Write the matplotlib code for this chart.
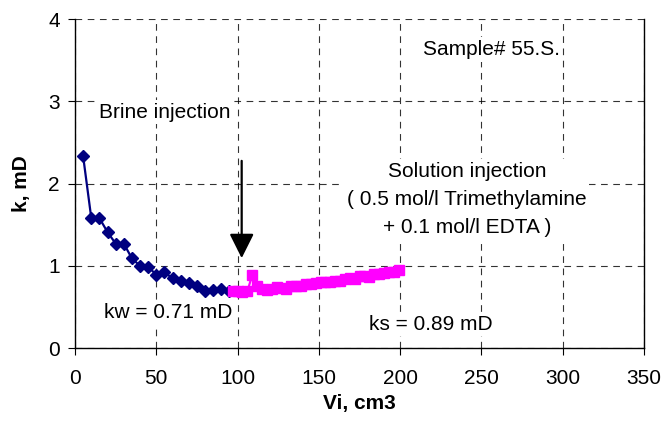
import numpy as np
import matplotlib.pyplot as plt

plt.rcParams['font.family'] = ['Liberation Sans', 'DejaVu Sans']

# Données : injection de saumure
vi_brine = [5, 10, 15, 20, 25, 30, 35, 40, 45, 50, 55, 60, 65, 70, 75, 80, 85, 90, 95]
k_brine = [2.33, 1.58, 1.58, 1.41, 1.27, 1.27, 1.09, 1.00, 0.99, 0.89, 0.92,
           0.85, 0.82, 0.79, 0.76, 0.70, 0.71, 0.72, 0.69]

# Données : injection de solution
vi_sol = [97, 100, 103, 106, 109, 112, 115, 118, 121, 124, 127, 130, 133, 136,
          139, 142, 145, 148, 151, 154, 157, 160, 163, 166, 169, 172, 175, 178,
          181, 184, 187, 190, 193, 196, 199]
k_sol = [0.69, 0.69, 0.68, 0.69, 0.89, 0.75, 0.72, 0.71, 0.72, 0.74, 0.73,
         0.72, 0.75, 0.76, 0.76, 0.78, 0.78, 0.79, 0.80, 0.80, 0.80, 0.82,
         0.82, 0.84, 0.85, 0.84, 0.88, 0.88, 0.87, 0.90, 0.90, 0.91, 0.92,
         0.93, 0.95]

xticks = [0, 50, 100, 150, 200, 250, 300, 350]
yticks = [0, 1, 2, 3, 4]

fig = plt.figure(figsize=(6.64, 4.23), dpi=100)
ax = fig.add_axes([0.113, 0.177, 0.857, 0.778])

ax.plot(vi_brine, k_brine, "-", color="#000080", marker="D", markersize=6.3,
        linewidth=1.6, zorder=3)
ax.plot(vi_sol, k_sol, "-", color="#FF00FF", marker="s", markersize=7,
        linewidth=1.6, zorder=3)

ax.set_xlim(0, 350)
ax.set_ylim(0, 4)
ax.set_xticks(xticks)
ax.set_yticks(yticks)
ax.grid(True, color="k", linestyle=(0, (6, 5)), linewidth=0.8, alpha=0.8)
ax.spines["top"].set_visible(False)
for s in ["left", "bottom", "right"]:
    ax.spines[s].set_linewidth(1.0)
ax.tick_params(direction="out", length=5, labelsize=15)
ax.tick_params(axis="x", pad=10)
ax.tick_params(axis="y", pad=6)
ax.tick_params(right=False)

box = dict(facecolor="white", edgecolor="none", pad=2)
ax.text(55, 2.87, "Brine injection", fontsize=15, ha="center", va="center", bbox=box, zorder=4)
ax.text(256, 3.63, "Sample# 55.S.", fontsize=15, ha="center", va="center", bbox=box, zorder=4)
ax.text(241, 1.81, "Solution injection\n( 0.5 mol/l Trimethylamine\n+ 0.1 mol/l EDTA )",
        fontsize=15, ha="center", va="center", linespacing=1.6, bbox=box, zorder=4)
ax.text(57, 0.43, "kw = 0.71 mD", fontsize=15, ha="center", va="center", bbox=box, zorder=2)
ax.text(219, 0.29, "ks = 0.89 mD", fontsize=15, ha="center", va="center", bbox=box, zorder=2)

ax.annotate("", xy=(102.5, 1.06), xytext=(102.5, 2.31),
            arrowprops=dict(arrowstyle="-|>,head_length=1.5,head_width=0.75",
                            color="k", linewidth=1.6), zorder=5)

ax.set_xlabel("Vi, cm3", fontsize=15, fontweight="bold", labelpad=4)
ax.set_ylabel("k, mD", fontsize=15, fontweight="bold", labelpad=12)

fig.savefig("out.png", dpi=100)
